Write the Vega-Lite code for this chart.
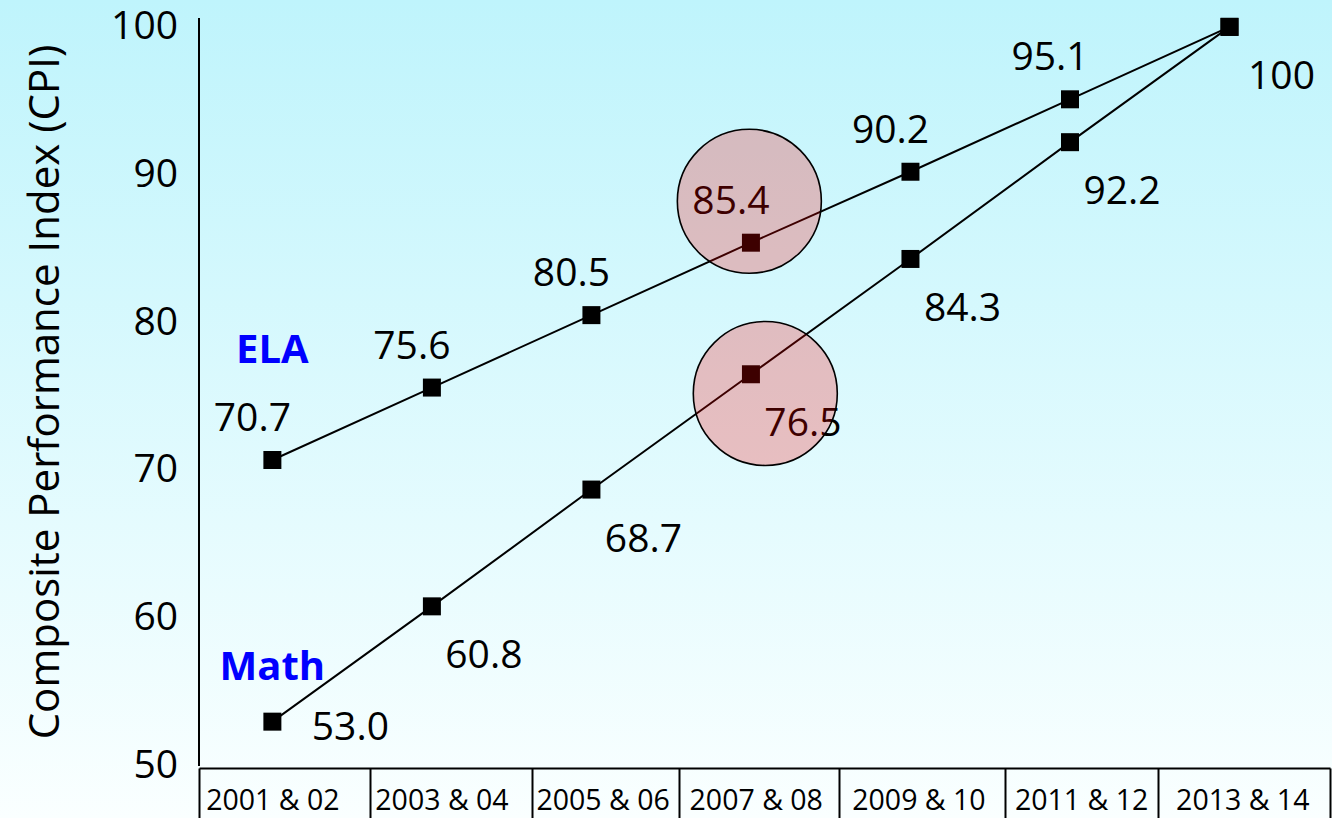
{
  "$schema": "https://vega.github.io/schema/vega-lite/v6.json",
  "width": 1332,
  "height": 818,
  "autosize": "none",
  "padding": 0,
  "background": "#E2F9FE",
  "config": {
    "font": "Open Sans",
    "view": {
      "stroke": null,
      "fill": {
        "gradient": "linear",
        "x1": 0, "y1": 0, "x2": 0, "y2": 1,
        "stops": [
          {"offset": 0, "color": "#BFF4FC"},
          {"offset": 1, "color": "#FAFFFF"}
        ]
      }
    }
  },
  "datasets": {
    "scores": [
      {"period": "2001 & 02", "i": 0, "series": "ELA", "value": 70.7, "label": "70.7"},
      {"period": "2003 & 04", "i": 1, "series": "ELA", "value": 75.6, "label": "75.6"},
      {"period": "2005 & 06", "i": 2, "series": "ELA", "value": 80.5, "label": "80.5"},
      {"period": "2007 & 08", "i": 3, "series": "ELA", "value": 85.4, "label": "85.4"},
      {"period": "2009 & 10", "i": 4, "series": "ELA", "value": 90.2, "label": "90.2"},
      {"period": "2011 & 12", "i": 5, "series": "ELA", "value": 95.1, "label": "95.1"},
      {"period": "2013 & 14", "i": 6, "series": "ELA", "value": 100, "label": ""},
      {"period": "2001 & 02", "i": 0, "series": "Math", "value": 53.0, "label": "53.0"},
      {"period": "2003 & 04", "i": 1, "series": "Math", "value": 60.8, "label": "60.8"},
      {"period": "2005 & 06", "i": 2, "series": "Math", "value": 68.7, "label": "68.7"},
      {"period": "2007 & 08", "i": 3, "series": "Math", "value": 76.5, "label": "76.5"},
      {"period": "2009 & 10", "i": 4, "series": "Math", "value": 84.3, "label": "84.3"},
      {"period": "2011 & 12", "i": 5, "series": "Math", "value": 92.2, "label": "92.2"},
      {"period": "2013 & 14", "i": 6, "series": "Math", "value": 100, "label": "100"}
    ],
    "yticks": [
      {"value": 50}, {"value": 60}, {"value": 70}, {"value": 80}, {"value": 90}, {"value": 100}
    ],
    "highlights": [
      {"series": "ELA", "i": 2.99, "value": 88.2},
      {"series": "Math", "i": 3.09, "value": 75.2}
    ],
    "names": [
      {"name": "ELA", "i": 0, "value": 78.1},
      {"name": "Math", "i": 0, "value": 56.6}
    ]
  },
  "resolve": {"axis": {"x": "independent"}},
  "layer": [
    {
      "data": {"name": "scores"},
      "mark": {"type": "line", "color": "black", "strokeWidth": 2},
      "encoding": {
        "x": {"field": "i", "type": "quantitative", "scale": {"domain": [-0.46, 6.63], "range": [199, 1330], "nice": false, "zero": false},
          "axis": {"orient": "bottom", "offset": -50, "values": [-0.46, 0.61, 1.63, 2.55, 3.55, 4.59, 5.55, 6.63], "labels": false, "ticks": true, "tickSize": 50, "tickWidth": 2, "tickColor": "black", "domain": true, "domainColor": "black", "domainWidth": 2, "grid": false, "title": null}},
        "y": {"field": "value", "type": "quantitative", "scale": {"domain": [50, 100.6], "range": [766, 18], "nice": false, "zero": false}, "axis": null},
        "detail": {"field": "series", "type": "nominal"}
      }
    },
    {
      "data": {"name": "scores"},
      "mark": {"type": "point", "shape": "square", "filled": true, "color": "black", "opacity": 1, "size": 324},
      "encoding": {
        "x": {"field": "i", "type": "quantitative", "scale": {"domain": [-0.46, 6.63], "range": [199, 1330], "nice": false, "zero": false},
          "axis": {"orient": "bottom", "offset": -50, "values": [0, 1.06, 2.07, 3.03, 4.05, 5.07, 6.08], "labelExpr": "['2001 & 02','2003 & 04','2005 & 06','2007 & 08','2009 & 10','2011 & 12','2013 & 14'][round(datum.value)]", "ticks": false, "domain": false, "grid": false, "labelFont": "Open Sans", "labelFontSize": 28.5, "labelColor": "black", "labelPadding": 18, "labelFlush": false, "labelOverlap": false, "title": null}},
        "y": {"field": "value", "type": "quantitative", "scale": {"domain": [50, 100.6], "range": [766, 18], "nice": false, "zero": false}, "axis": null}
      }
    },
    {
      "data": {"name": "yticks"},
      "mark": {"type": "text", "fontSize": 39, "color": "black", "align": "right", "baseline": "middle", "dx": -21},
      "encoding": {
        "x": {"datum": -0.46, "type": "quantitative", "axis": null},
        "y": {"field": "value", "type": "quantitative", "axis": null},
        "text": {"field": "value", "type": "quantitative"}
      }
    },
    {
      "data": {"values": [{}]},
      "mark": {"type": "rule", "color": "black", "strokeWidth": 2},
      "encoding": {
        "x": {"datum": -0.46, "type": "quantitative", "axis": null},
        "y": {"datum": 50, "type": "quantitative", "axis": null},
        "y2": {"datum": 100.6}
      }
    },
    {
      "data": {"values": [{"title": "Composite Performance Index (CPI)"}]},
      "mark": {"type": "text", "fontSize": 42, "color": "black", "align": "center", "baseline": "middle", "angle": 270},
      "encoding": {
        "x": {"datum": -1.42, "type": "quantitative", "axis": null},
        "y": {"datum": 75.3, "type": "quantitative", "axis": null},
        "text": {"field": "title", "type": "nominal"}
      }
    },
    {
      "data": {"name": "scores"},
      "transform": [{"filter": "datum.series == 'ELA'"}],
      "mark": {"type": "text", "fontSize": 39, "color": "black", "align": "center", "baseline": "middle", "dx": -20, "dy": -41},
      "encoding": {
        "x": {"field": "i", "type": "quantitative", "axis": null},
        "y": {"field": "value", "type": "quantitative", "axis": null},
        "text": {"field": "label", "type": "nominal"}
      }
    },
    {
      "data": {"name": "scores"},
      "transform": [{"filter": "datum.series == 'Math' && datum.i > 0"}],
      "mark": {"type": "text", "fontSize": 39, "color": "black", "align": "center", "baseline": "middle", "dx": 52, "dy": 50},
      "encoding": {
        "x": {"field": "i", "type": "quantitative", "axis": null},
        "y": {"field": "value", "type": "quantitative", "axis": null},
        "text": {"field": "label", "type": "nominal"}
      }
    },
    {
      "data": {"name": "scores"},
      "transform": [{"filter": "datum.series == 'Math' && datum.i == 0"}],
      "mark": {"type": "text", "fontSize": 39, "color": "black", "align": "center", "baseline": "middle", "dx": 78, "dy": 6},
      "encoding": {
        "x": {"field": "i", "type": "quantitative", "axis": null},
        "y": {"field": "value", "type": "quantitative", "axis": null},
        "text": {"field": "label", "type": "nominal"}
      }
    },
    {
      "data": {"name": "names"},
      "mark": {"type": "text", "fontSize": 40, "fontWeight": "bold", "color": "#0000FF", "align": "center", "baseline": "middle"},
      "encoding": {
        "x": {"field": "i", "type": "quantitative", "axis": null},
        "y": {"field": "value", "type": "quantitative", "axis": null},
        "text": {"field": "name", "type": "nominal"}
      }
    },
    {
      "data": {"name": "highlights"},
      "mark": {"type": "point", "shape": "circle", "filled": true, "size": 20736, "fill": "#FF0000", "fillOpacity": 0.24, "stroke": "black", "strokeWidth": 1.6, "strokeOpacity": 1},
      "encoding": {
        "x": {"field": "i", "type": "quantitative", "axis": null},
        "y": {"field": "value", "type": "quantitative", "axis": null}
      }
    }
  ]
}
